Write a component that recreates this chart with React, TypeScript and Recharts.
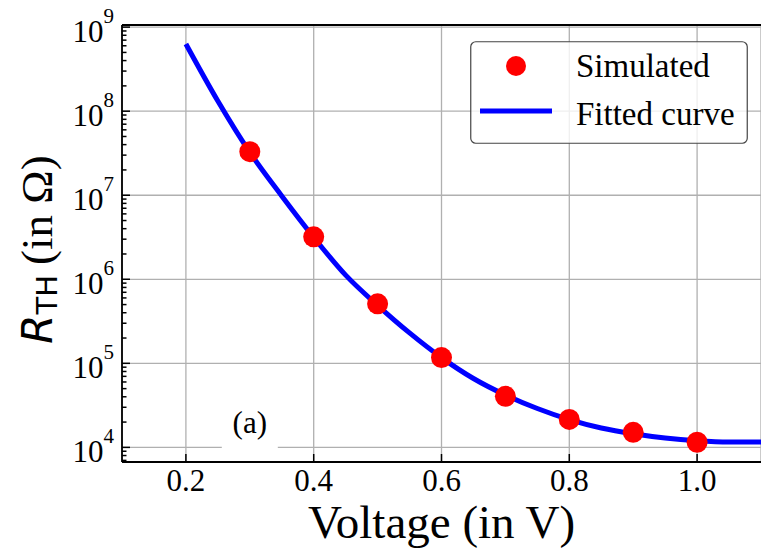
import React from 'react'
import {
  ComposedChart,
  Line,
  Scatter,
  XAxis,
  YAxis,
  CartesianGrid,
  ReferenceLine,
  ReferenceDot,
  Legend,
} from 'recharts'

// x axis
const voltageTicks = [0.2, 0.4, 0.6, 0.8, 1.0]
const X_DOMAIN: [number, number] = [0.1, 1.1]

// y axis (log)
const decadeTicks = [1e4, 1e5, 1e6, 1e7, 1e8, 1e9]
const minorMultipliers = [2, 3, 4, 5, 6, 7, 8, 9]
const Y_MIN = 6.7e3
const Y_MAX = 1.06e9

// simulated points
const simVoltage = [0.3, 0.4, 0.5, 0.6, 0.7, 0.8, 0.9, 1.0]
const simResistance = [3.3e7, 3.2e6, 5.1e5, 1.17e5, 4.05e4, 2.15e4, 1.51e4, 1.15e4]

// fitted curve
const fitVoltage = [
  0.2, 0.25, 0.3, 0.35, 0.4, 0.45, 0.5, 0.55, 0.6, 0.65, 0.7, 0.75, 0.8, 0.85, 0.9,
  0.95, 1.0, 1.05, 1.1,
]
const fitResistance = [
  6.3e8, 1.32e8, 3.24e7, 9.8e6, 3.16e6, 1.12e6, 4.9e5, 2.3e5, 1.17e5, 6.6e4, 4.2e4,
  2.9e4, 2.14e4, 1.7e4, 1.45e4, 1.29e4, 1.2e4, 1.16e4, 1.16e4,
]

const SIM_NAME = 'Simulated'
const FIT_NAME = 'Fitted curve'
const PANEL_LABEL = '(a)'

const simData = simVoltage.map((v, i) => ({ v, r: simResistance[i] }))
const fitData = fitVoltage.map((v, i) => ({ v, r: fitResistance[i] }))

const yTicks = [
  ...[7e3, 8e3, 9e3],
  ...decadeTicks.flatMap((d) =>
    d === 1e9 ? [d] : [d, ...minorMultipliers.map((m) => m * d)]
  ),
].filter((t) => t >= Y_MIN && t <= Y_MAX)

const serif = { fontFamily: "'Liberation Serif', 'Times New Roman', Times, serif" }
const sans = { fontFamily: "'DejaVu Sans', sans-serif" }

function YTick(props: any) {
  const { x, y, payload } = props
  const v = payload.value
  const exp = Math.round(Math.log10(v))
  const major = Math.abs(v - 10 ** exp) < 1e-6 * v
  return (
    <g>
      <line x1={x} x2={x + (major ? 8 : 4.5)} y1={y} y2={y} stroke="#000" strokeWidth={1.5} />
      {major && (
        <text x={x - 8} y={y + 15} textAnchor="end" style={serif} fontSize={31} fill="#000">
          10
          <tspan dy={-19} fontSize={21}>
            {exp}
          </tspan>
        </text>
      )}
    </g>
  )
}

function XTick(props: any) {
  const { x, y, payload } = props
  return (
    <g>
      <line x1={x} x2={x} y1={y} y2={y - 8} stroke="#000" strokeWidth={1.5} />
      <text x={x} y={y + 29} textAnchor="middle" style={serif} fontSize={31} fill="#000">
        {payload.value.toFixed(1)}
      </text>
    </g>
  )
}

function XLabel(props: any) {
  const { viewBox } = props
  return (
    <text
      x={viewBox.x + viewBox.width / 2}
      y={viewBox.y + 76}
      textAnchor="middle"
      style={serif}
      fontSize={47}
      fill="#000"
    >
      Voltage (in V)
    </text>
  )
}

function YLabel(props: any) {
  const { viewBox } = props
  const cx = viewBox.x + 52
  const cy = viewBox.y + viewBox.height / 2 + 6
  return (
    <text
      x={cx}
      y={cy}
      textAnchor="middle"
      transform={`rotate(-90, ${cx}, ${cy})`}
      fill="#000"
    >
      <tspan style={sans} fontStyle="italic" fontSize={42}>
        R
      </tspan>
      <tspan style={sans} fontSize={29} dy={5}>
        TH
      </tspan>
      <tspan style={serif} fontSize={45} dy={-5} dx={10}>
        (in Ω)
      </tspan>
    </text>
  )
}

function LegendBox() {
  return (
    <svg width={278} height={103} style={{ display: 'block' }}>
      <rect
        x={0.75}
        y={0.75}
        width={276.5}
        height={101.5}
        rx={5}
        fill="#fff"
        fillOpacity={0.8}
        stroke="#444"
        strokeWidth={1.2}
      />
      <circle cx={46} cy={25} r={10} fill="#ff0000" />
      <text x={106} y={36} style={serif} fontSize={33} fill="#000">
        {SIM_NAME}
      </text>
      <line x1={10} x2={82} y1={70} y2={70} stroke="#0000ff" strokeWidth={5} />
      <text x={106} y={84} style={serif} fontSize={33} fill="#000">
        {FIT_NAME}
      </text>
    </svg>
  )
}

export default function App() {
  return (
    <div style={{ position: 'absolute', left: 0, top: 0, width: 761, height: 550, background: '#fff' }}>
      <ComposedChart width={761} height={550} margin={{ top: 25, right: 0, bottom: 0, left: 0 }}>
        <CartesianGrid horizontal={false} stroke="#b0b0b0" strokeWidth={1.3} />
        {decadeTicks.map((d) => (
          <ReferenceLine key={d} y={d} stroke="#b0b0b0" strokeWidth={1.3} />
        ))}
        <ReferenceLine y={Y_MAX} stroke="#000" strokeWidth={1.8} />
        <ReferenceDot
          x={0.3}
          y={1e4}
          r={0}
          shape={(p: any) => (
            <g>
              <rect x={p.cx - 28} y={p.cy - 42} width={56} height={48} fill="#fff" />
              <text x={p.cx} y={p.cy - 14} textAnchor="middle" style={serif} fontSize={31} fill="#000">
                {PANEL_LABEL}
              </text>
            </g>
          )}
        />
        <XAxis
          dataKey="v"
          type="number"
          domain={X_DOMAIN}
          allowDataOverflow
          ticks={voltageTicks}
          interval={0}
          tickSize={0}
          tickMargin={0}
          tickLine={false}
          tick={<XTick />}
          height={88}
          axisLine={{ stroke: '#000', strokeWidth: 1.8 }}
          label={<XLabel />}
        />
        <YAxis
          dataKey="r"
          type="number"
          scale="log"
          domain={[Y_MIN, Y_MAX]}
          allowDataOverflow
          ticks={yTicks}
          interval={0}
          tickSize={0}
          tickMargin={0}
          tickLine={false}
          tick={<YTick />}
          width={122}
          axisLine={{ stroke: '#000', strokeWidth: 1.8 }}
          label={<YLabel />}
        />
        <Scatter
          name={SIM_NAME}
          data={simData}
          dataKey="r"
          fill="#ff0000"
          isAnimationActive={false}
          shape={(p: any) => <circle cx={p.cx} cy={p.cy} r={10.5} fill="#ff0000" />}
        />
        <Line
          name={FIT_NAME}
          data={fitData}
          dataKey="r"
          type="monotone"
          stroke="#0000ff"
          strokeWidth={5}
          dot={false}
          activeDot={false}
          isAnimationActive={false}
        />
        <Legend
          layout="vertical"
          align="center"
          verticalAlign="middle"
          wrapperStyle={{ left: 470, top: 41, width: 278, height: 103 }}
          content={() => <LegendBox />}
        />
      </ComposedChart>
    </div>
  )
}
